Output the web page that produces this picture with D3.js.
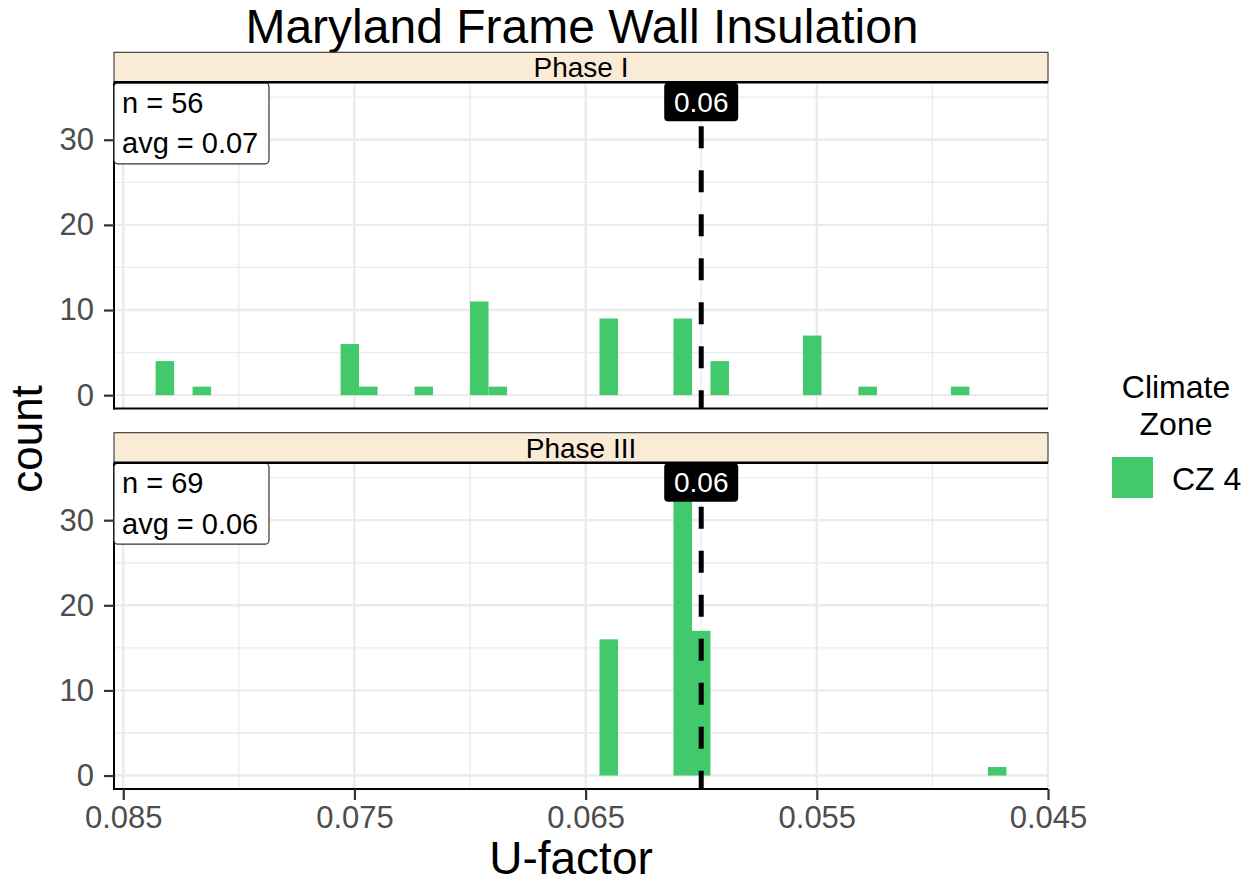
<!DOCTYPE html>
<meta charset="utf-8">
<style>
body { margin: 0; background: #fff; }
svg text { font-family: "Liberation Sans", Arial, Helvetica, sans-serif; }
.grid-major { stroke: #ebebeb; stroke-width: 2.4px; }
.grid-minor { stroke: #ebebeb; stroke-width: 1.3px; }
.axis text { fill: #4d4d4d; font-size: 31px; }
.axis line { stroke: #333; stroke-width: 2.2px; }
</style>
<svg width="1250" height="886"></svg>
<script src="https://d3js.org/d3.v7.min.js"></script>
<script>

// histogram bins (centre of bin, U-factor) and counts per phase
var binWidth = 0.0008;
var phases = ["Phase I", "Phase III"];
var centersPhase1 = [0.0832, 0.0816, 0.0752, 0.0744, 0.0720, 0.0696, 0.0688, 0.0640, 0.0608, 0.0592, 0.0552, 0.0528, 0.0488];
var countsPhase1 = [4, 1, 6, 1, 1, 11, 1, 9, 9, 4, 7, 1, 1];
var centersPhase3 = [0.0640, 0.0608, 0.0600, 0.0472];
var countsPhase3 = [16, 35, 17, 1];
var nLabels = ["n = 56", "n = 69"];
var avgLabels = ["avg = 0.07", "avg = 0.06"];
var refValue = 0.06;
var refLabel = "0.06";
var xTicks = [0.085, 0.075, 0.065, 0.055, 0.045];
var xMinor = [0.08, 0.07, 0.06, 0.05];
var yTicks = [0, 10, 20, 30];
var yMinor = [5, 15, 25, 35];
var zoneName = "CZ 4";
var barColor = "#41c96b";

var svg = d3.select("svg");
var left = 114, right = 1048;
var panelTops = [82.3, 462.7], panelH = 326.3;

var x = d3.scaleLinear().domain([0.0854, 0.045]).range([left, right]);
var y = d3.scaleLinear().domain([-1.58, 36.75]).range([panelH, 0]);

var panelData = [
	centersPhase1.map(function(c, i) { return {c: c, n: countsPhase1[i]}; }),
	centersPhase3.map(function(c, i) { return {c: c, n: countsPhase3[i]}; })
];

svg.append("text")
	.attr("x", 582).attr("y", 43)
	.attr("text-anchor", "middle")
	.style("font-size", "48px")
	.text("Maryland Frame Wall Insulation");

phases.forEach(function(name, p) {
	var top = panelTops[p];
	var g = svg.append("g").attr("transform", "translate(0," + top + ")");

	// strip
	svg.append("rect")
		.attr("x", left).attr("y", top - 30).attr("width", right - left).attr("height", 30)
		.attr("fill", "#faebd7").attr("stroke", "#333").attr("stroke-width", 1.1);
	svg.append("line")
		.attr("x1", left).attr("x2", right).attr("y1", top).attr("y2", top)
		.attr("stroke", "#000").attr("stroke-width", 2.6);
	svg.append("text")
		.attr("x", (left + right) / 2).attr("y", top - 5)
		.attr("text-anchor", "middle")
		.style("font-size", "28px")
		.text(name);

	// grid
	g.selectAll(".ymin").data(yMinor).enter().append("line")
		.attr("class", "grid-minor")
		.attr("x1", left).attr("x2", right)
		.attr("y1", function(d) { return y(d); }).attr("y2", function(d) { return y(d); });
	g.selectAll(".xmin").data(xMinor).enter().append("line")
		.attr("class", "grid-minor")
		.attr("x1", function(d) { return x(d); }).attr("x2", function(d) { return x(d); })
		.attr("y1", 1).attr("y2", panelH);
	g.selectAll(".ymaj").data(yTicks).enter().append("line")
		.attr("class", "grid-major")
		.attr("x1", left).attr("x2", right)
		.attr("y1", function(d) { return y(d); }).attr("y2", function(d) { return y(d); });
	g.selectAll(".xmaj").data(xTicks).enter().append("line")
		.attr("class", "grid-major")
		.attr("x1", function(d) { return x(d); }).attr("x2", function(d) { return x(d); })
		.attr("y1", 1).attr("y2", panelH);

	// bars (x scale is reversed, so the higher edge is on the left)
	g.selectAll(".bar").data(panelData[p]).enter().append("rect")
		.attr("class", "bar")
		.attr("x", function(d) { return x(d.c + binWidth / 2); })
		.attr("width", function(d) { return x(d.c - binWidth / 2) - x(d.c + binWidth / 2); })
		.attr("y", function(d) { return y(d.n); })
		.attr("height", function(d) { return y(0) - y(d.n); })
		.attr("fill", barColor);

	// reference line
	g.append("line")
		.attr("x1", x(refValue)).attr("x2", x(refValue))
		.attr("y1", 0).attr("y2", panelH)
		.attr("stroke", "#000").attr("stroke-width", 5)
		.attr("stroke-dasharray", "22,22");

	// axis lines
	g.append("line").attr("x1", left).attr("x2", left).attr("y1", 0).attr("y2", panelH + 1)
		.attr("stroke", "#000").attr("stroke-width", 2);
	g.append("line").attr("x1", left - 1).attr("x2", right).attr("y1", panelH).attr("y2", panelH)
		.attr("stroke", "#000").attr("stroke-width", 2);

	// y axis
	var ya = g.append("g").attr("class", "axis")
		.attr("transform", "translate(" + left + ",0)")
		.call(d3.axisLeft(y).tickValues(yTicks).tickSize(10).tickPadding(10));
	ya.select(".domain").remove();

	if (p === 1) {
		var xa = g.append("g").attr("class", "axis")
			.attr("transform", "translate(0," + panelH + ")")
			.call(d3.axisBottom(x).tickValues(xTicks).tickSize(11).tickPadding(6).tickFormat(d3.format(".3f")));
		xa.select(".domain").remove();
	}

	// n / avg label
	g.append("rect")
		.attr("x", left).attr("y", 0.5).attr("width", 155).attr("height", 81)
		.attr("rx", 4).attr("fill", "#fff").attr("stroke", "#333").attr("stroke-width", 1.2);
	g.append("text").attr("x", left + 8).attr("y", 30.5).style("font-size", "29px").text(nLabels[p]);
	g.append("text").attr("x", left + 8).attr("y", 71).style("font-size", "29px").text(avgLabels[p]);

	// reference value label
	g.append("rect")
		.attr("x", x(refValue) - 37).attr("y", 0.5).attr("width", 74).attr("height", 38.5)
		.attr("rx", 4).attr("fill", "#000");
	g.append("text")
		.attr("x", x(refValue)).attr("y", 29.5)
		.attr("text-anchor", "middle").attr("fill", "#fff")
		.style("font-size", "28px")
		.text(refLabel);
});

// axis titles
svg.append("text")
	.attr("x", 571).attr("y", 874)
	.attr("text-anchor", "middle")
	.style("font-size", "46px")
	.text("U-factor");
svg.append("text")
	.attr("transform", "translate(42,439) rotate(-90)")
	.attr("text-anchor", "middle")
	.style("font-size", "44px")
	.text("count");

// legend
var lg = svg.append("g");
lg.append("text").attr("x", 1176).attr("y", 398).attr("text-anchor", "middle")
	.style("font-size", "32px").text("Climate");
lg.append("text").attr("x", 1176).attr("y", 435).attr("text-anchor", "middle")
	.style("font-size", "32px").text("Zone");
lg.append("rect").attr("x", 1112).attr("y", 457).attr("width", 41).attr("height", 41)
	.attr("fill", barColor);
lg.append("text").attr("x", 1172).attr("y", 490)
	.style("font-size", "32px").text(zoneName);

</script>
